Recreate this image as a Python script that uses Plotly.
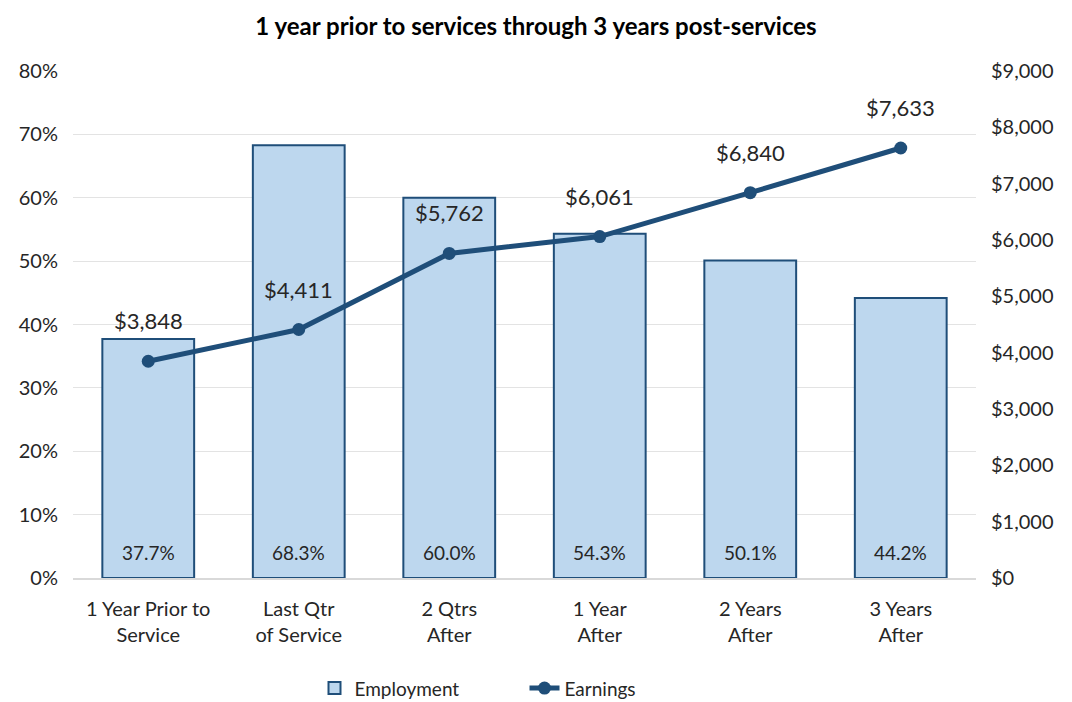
import plotly.graph_objects as go

categories = ["1 Year Prior to<br>Service", "Last Qtr<br>of Service", "2 Qtrs<br>After",
              "1 Year<br>After", "2 Years<br>After", "3 Years<br>After"]
employment = [37.7, 68.3, 60.0, 54.3, 50.1, 44.2]
earnings = [3848, 4411, 5762, 6061, 6840, 7633]

navy = "#1F4E79"
light_blue = "#BDD7EE"
font_family = "Lato, 'Open Sans', sans-serif"
text_color = "#262626"

fig = go.Figure()

fig.add_trace(go.Bar(
    x=categories, y=employment, name="Employment",
    marker=dict(color=light_blue, line=dict(color=navy, width=2)),
    width=0.61, yaxis="y",
))

fig.add_trace(go.Scatter(
    x=categories, y=earnings, name="Earnings", yaxis="y2",
    mode="lines+markers",
    line=dict(color=navy, width=5),
    marker=dict(color=navy, size=13),
))

# employment percentage labels near the base of each bar
for c, v in zip(categories, employment):
    fig.add_annotation(
        x=c, y=0, yref="y", text=f"{v:.1f}%", showarrow=False,
        yanchor="middle", yshift=26,
        font=dict(size=19, color=text_color, family=font_family),
    )

# earnings labels above each line point
for c, v in zip(categories, earnings):
    fig.add_annotation(
        x=c, y=v, yref="y2", text=f"${v:,}", showarrow=False,
        yanchor="bottom", yshift=25,
        font=dict(size=22, color=text_color, family=font_family),
    )

fig.update_layout(
    width=1072, height=702,
    margin=dict(l=73, r=96, t=71, b=124, autoexpand=False),
    paper_bgcolor="white", plot_bgcolor="white",
    title=dict(text="<b>1 year prior to services through 3 years post-services</b>",
               x=0.5, xanchor="center", y=0.962, yanchor="middle",
               font=dict(size=24, color="black", family=font_family)),
    font=dict(family=font_family, size=20, color=text_color),
    showlegend=True,
    legend=dict(orientation="h", x=0.5, xanchor="center", y=-0.18, yanchor="top",
                font=dict(size=19, color=text_color), traceorder="normal",
                entrywidth=165, entrywidthmode="pixels"),
    xaxis=dict(showgrid=False, showline=True, linecolor="#D9D9D9", linewidth=1.5,
               ticks="", automargin=False, ticklabelstandoff=12,
               tickfont=dict(size=20, color=text_color)),
    yaxis=dict(range=[0, 80], dtick=10, ticksuffix="%", showgrid=True,
               gridcolor="#E3E3E3", gridwidth=1, zeroline=False, automargin=False,
               tickfont=dict(size=20, color=text_color), ticklabelstandoff=14),
    yaxis2=dict(range=[0, 9000], dtick=1000, overlaying="y", side="right",
                tickprefix="$", tickformat=",d", showgrid=False, zeroline=False,
                automargin=False,
                tickfont=dict(size=20, color=text_color), ticklabelstandoff=14),
)

fig.write_html("out.html")
